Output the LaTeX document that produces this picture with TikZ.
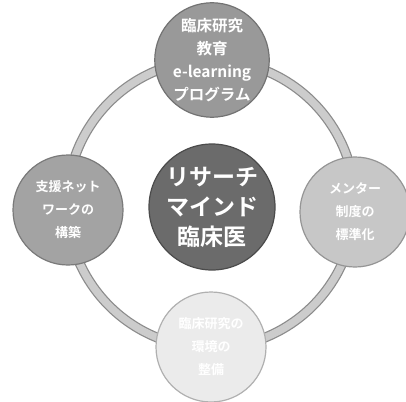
\documentclass[tikz,border=0pt]{standalone}
\usepackage{fontspec}
\newfontfamily\jp{Noto Sans CJK JP}[BoldFont={Noto Sans CJK JP Bold}]
\definecolor{ctop}{gray}{0.60}
\definecolor{cleft}{gray}{0.64}
\definecolor{cright}{gray}{0.78}
\definecolor{cbot}{gray}{0.92}
\definecolor{chub}{gray}{0.42}
\begin{document}
\begin{tikzpicture}[x=1pt,y=-1pt,
  bubble/.style={circle,draw=#1!75!black,line width=1.2pt,fill=#1,text=white,align=center,inner sep=0pt,minimum size=110pt,font=\jp\bfseries\fontsize{13}{23}\selectfont},
  hub/.style={circle,draw=chub!70!black,line width=1.2pt,fill=chub,text=white,align=center,inner sep=0pt,minimum size=126pt,font=\jp\bfseries\fontsize{23}{30}\selectfont}]
\useasboundingbox (0,0) rectangle (406,401);
\fill[white] (0,0) rectangle (406,401);
\coordinate (c) at (211,204);
\draw[black!45,line width=10pt] (c) circle[radius=144];
\draw[black!20,line width=7.5pt] (c) circle[radius=144];
\node[hub] (hub) at (212,207) {リサーチ\\マインド\\臨床医};
\node[bubble=ctop,font=\jp\bfseries\fontsize{15.5}{23}\selectfont] (top) at (212,60) {臨床研究\\教育\\e-learning\\プログラム};
\node[bubble=cleft] (left) at (68,210) {支援ネット\\ワークの\\構築};
\node[bubble=cright] (right) at (355,212) {メンター\\制度の\\標準化};
\node[bubble=cbot] (bottom) at (211,347) {臨床研究の\\環境の\\整備};
\end{tikzpicture}
\end{document}
